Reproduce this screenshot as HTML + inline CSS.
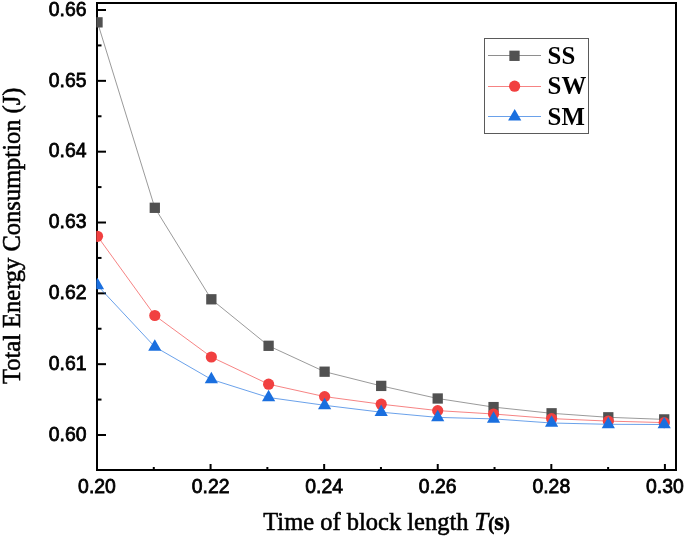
<!DOCTYPE html>
<html><head><meta charset="utf-8"><style>
html,body{margin:0;padding:0;background:#fff;width:685px;height:536px;overflow:hidden}
svg{display:block;will-change:transform}
.tl{font-family:"Liberation Sans",sans-serif;font-size:19.4px;fill:#000;stroke:#000;stroke-width:0.75px}
.at{font-family:"Liberation Serif",serif;font-size:24.5px;fill:#000;stroke:#000;stroke-width:0.55px}
.lg{font-family:"Liberation Serif",serif;font-size:24.8px;font-weight:bold;fill:#000}
</style></head><body><svg width="685" height="536" viewBox="0 0 685 536"><defs><clipPath id="pc"><rect x="96.3" y="2" width="580" height="469"/></clipPath></defs><rect x="97" y="3" width="579" height="467" fill="none" stroke="#000" stroke-width="2"/><line x1="98" y1="435.00" x2="106" y2="435.00" stroke="#000" stroke-width="2"/><text transform="translate(86.5,440.80) scale(1,1.06)" class="tl" text-anchor="end">0.60</text><line x1="98" y1="364.17" x2="106" y2="364.17" stroke="#000" stroke-width="2"/><text transform="translate(86.5,369.97) scale(1,1.06)" class="tl" text-anchor="end">0.61</text><line x1="98" y1="293.34" x2="106" y2="293.34" stroke="#000" stroke-width="2"/><text transform="translate(86.5,299.14) scale(1,1.06)" class="tl" text-anchor="end">0.62</text><line x1="98" y1="222.51" x2="106" y2="222.51" stroke="#000" stroke-width="2"/><text transform="translate(86.5,228.31) scale(1,1.06)" class="tl" text-anchor="end">0.63</text><line x1="98" y1="151.68" x2="106" y2="151.68" stroke="#000" stroke-width="2"/><text transform="translate(86.5,157.48) scale(1,1.06)" class="tl" text-anchor="end">0.64</text><line x1="98" y1="80.85" x2="106" y2="80.85" stroke="#000" stroke-width="2"/><text transform="translate(86.5,86.65) scale(1,1.06)" class="tl" text-anchor="end">0.65</text><line x1="98" y1="10.02" x2="106" y2="10.02" stroke="#000" stroke-width="2"/><text transform="translate(86.5,15.82) scale(1,1.06)" class="tl" text-anchor="end">0.66</text><line x1="98" y1="399.58" x2="101.5" y2="399.58" stroke="#000" stroke-width="2"/><line x1="98" y1="328.75" x2="101.5" y2="328.75" stroke="#000" stroke-width="2"/><line x1="98" y1="257.93" x2="101.5" y2="257.93" stroke="#000" stroke-width="2"/><line x1="98" y1="187.09" x2="101.5" y2="187.09" stroke="#000" stroke-width="2"/><line x1="98" y1="116.26" x2="101.5" y2="116.26" stroke="#000" stroke-width="2"/><line x1="98" y1="45.44" x2="101.5" y2="45.44" stroke="#000" stroke-width="2"/><line x1="97.00" y1="469" x2="97.00" y2="464" stroke="#000" stroke-width="2"/><text transform="translate(97.00,493.2) scale(1,1.06)" class="tl" text-anchor="middle">0.20</text><line x1="210.58" y1="469" x2="210.58" y2="464" stroke="#000" stroke-width="2"/><text transform="translate(210.58,493.2) scale(1,1.06)" class="tl" text-anchor="middle">0.22</text><line x1="324.16" y1="469" x2="324.16" y2="464" stroke="#000" stroke-width="2"/><text transform="translate(324.16,493.2) scale(1,1.06)" class="tl" text-anchor="middle">0.24</text><line x1="437.74" y1="469" x2="437.74" y2="464" stroke="#000" stroke-width="2"/><text transform="translate(437.74,493.2) scale(1,1.06)" class="tl" text-anchor="middle">0.26</text><line x1="551.32" y1="469" x2="551.32" y2="464" stroke="#000" stroke-width="2"/><text transform="translate(551.32,493.2) scale(1,1.06)" class="tl" text-anchor="middle">0.28</text><line x1="664.90" y1="469" x2="664.90" y2="464" stroke="#000" stroke-width="2"/><text transform="translate(664.90,493.2) scale(1,1.06)" class="tl" text-anchor="middle">0.30</text><line x1="153.79" y1="469" x2="153.79" y2="467" stroke="#000" stroke-width="2"/><line x1="267.37" y1="469" x2="267.37" y2="467" stroke="#000" stroke-width="2"/><line x1="380.95" y1="469" x2="380.95" y2="467" stroke="#000" stroke-width="2"/><line x1="494.53" y1="469" x2="494.53" y2="467" stroke="#000" stroke-width="2"/><line x1="608.11" y1="469" x2="608.11" y2="467" stroke="#000" stroke-width="2"/><text transform="translate(386.5,529.9) scale(1,1.03)" class="at" text-anchor="middle">Time of block length <tspan font-style="italic">T</tspan><tspan font-weight="bold" font-size="18">(</tspan><tspan font-weight="bold">s</tspan><tspan font-weight="bold" font-size="18">)</tspan></text><text transform="translate(19.9,235.8) rotate(-90) scale(1,1.03)" class="at" text-anchor="middle">Total Energy Consumption (J)</text><g clip-path="url(#pc)"><polyline points="97.50,22.35 154.80,207.80 211.35,299.30 268.60,345.80 324.60,371.70 381.20,385.90 437.70,398.50 493.55,407.10 551.60,413.30 608.30,417.30 664.20,419.40" fill="none" stroke="#515151" stroke-width="1.0" stroke-opacity="0.58"/><rect x="92.35" y="17.20" width="10.3" height="10.3" fill="#515151"/><rect x="149.65" y="202.65" width="10.3" height="10.3" fill="#515151"/><rect x="206.20" y="294.15" width="10.3" height="10.3" fill="#515151"/><rect x="263.45" y="340.65" width="10.3" height="10.3" fill="#515151"/><rect x="319.45" y="366.55" width="10.3" height="10.3" fill="#515151"/><rect x="376.05" y="380.75" width="10.3" height="10.3" fill="#515151"/><rect x="432.55" y="393.35" width="10.3" height="10.3" fill="#515151"/><rect x="488.40" y="401.95" width="10.3" height="10.3" fill="#515151"/><rect x="546.45" y="408.15" width="10.3" height="10.3" fill="#515151"/><rect x="603.15" y="412.15" width="10.3" height="10.3" fill="#515151"/><rect x="659.05" y="414.25" width="10.3" height="10.3" fill="#515151"/><polyline points="97.50,236.30 154.80,315.50 211.35,357.00 268.60,384.20 324.60,396.60 381.20,404.20 437.70,410.60 493.55,414.00 551.60,418.60 608.30,421.10 664.20,422.60" fill="none" stroke="#F14040" stroke-width="1.0" stroke-opacity="0.65"/><circle cx="97.50" cy="236.30" r="5.6" fill="#F14040"/><circle cx="154.80" cy="315.50" r="5.6" fill="#F14040"/><circle cx="211.35" cy="357.00" r="5.6" fill="#F14040"/><circle cx="268.60" cy="384.20" r="5.6" fill="#F14040"/><circle cx="324.60" cy="396.60" r="5.6" fill="#F14040"/><circle cx="381.20" cy="404.20" r="5.6" fill="#F14040"/><circle cx="437.70" cy="410.60" r="5.6" fill="#F14040"/><circle cx="493.55" cy="414.00" r="5.6" fill="#F14040"/><circle cx="551.60" cy="418.60" r="5.6" fill="#F14040"/><circle cx="608.30" cy="421.10" r="5.6" fill="#F14040"/><circle cx="664.20" cy="422.60" r="5.6" fill="#F14040"/><polyline points="97.50,285.50 154.80,346.80 211.35,379.40 268.60,397.50 324.60,405.30 381.20,412.20 437.70,417.40 493.55,418.90 551.60,423.00 608.30,424.30 664.20,424.50" fill="none" stroke="#1A6FDF" stroke-width="1.0" stroke-opacity="0.65"/><polygon points="97.50,277.83 104.10,289.33 90.90,289.33" fill="#1A6FDF"/><polygon points="154.80,339.13 161.40,350.63 148.20,350.63" fill="#1A6FDF"/><polygon points="211.35,371.73 217.95,383.23 204.75,383.23" fill="#1A6FDF"/><polygon points="268.60,389.83 275.20,401.33 262.00,401.33" fill="#1A6FDF"/><polygon points="324.60,397.63 331.20,409.13 318.00,409.13" fill="#1A6FDF"/><polygon points="381.20,404.53 387.80,416.03 374.60,416.03" fill="#1A6FDF"/><polygon points="437.70,409.73 444.30,421.23 431.10,421.23" fill="#1A6FDF"/><polygon points="493.55,411.23 500.15,422.73 486.95,422.73" fill="#1A6FDF"/><polygon points="551.60,415.33 558.20,426.83 545.00,426.83" fill="#1A6FDF"/><polygon points="608.30,416.63 614.90,428.13 601.70,428.13" fill="#1A6FDF"/><polygon points="664.20,416.83 670.80,428.33 657.60,428.33" fill="#1A6FDF"/></g><rect x="484.5" y="38.5" width="104" height="95" fill="#fff" stroke="#5a5a5a" stroke-width="1"/><line x1="488" y1="55.5" x2="541" y2="55.5" stroke="#515151" stroke-width="1.0" stroke-opacity="0.65"/><rect x="509.35" y="50.65" width="10.3" height="10.3" fill="#515151"/><text transform="translate(547.6,63.8) scale(1,1.04)" class="lg">SS</text><line x1="488" y1="86.5" x2="541" y2="86.5" stroke="#F14040" stroke-width="1.0" stroke-opacity="0.65"/><circle cx="514.60" cy="86.20" r="5.6" fill="#F14040"/><text transform="translate(547.6,94.2) scale(1,1.04)" class="lg">SW</text><line x1="488" y1="116.5" x2="541" y2="116.5" stroke="#1A6FDF" stroke-width="1.0" stroke-opacity="0.65"/><polygon points="514.70,108.93 521.30,120.43 508.10,120.43" fill="#1A6FDF"/><text transform="translate(547.6,124.6) scale(1,1.04)" class="lg">SM</text></svg></body></html>
